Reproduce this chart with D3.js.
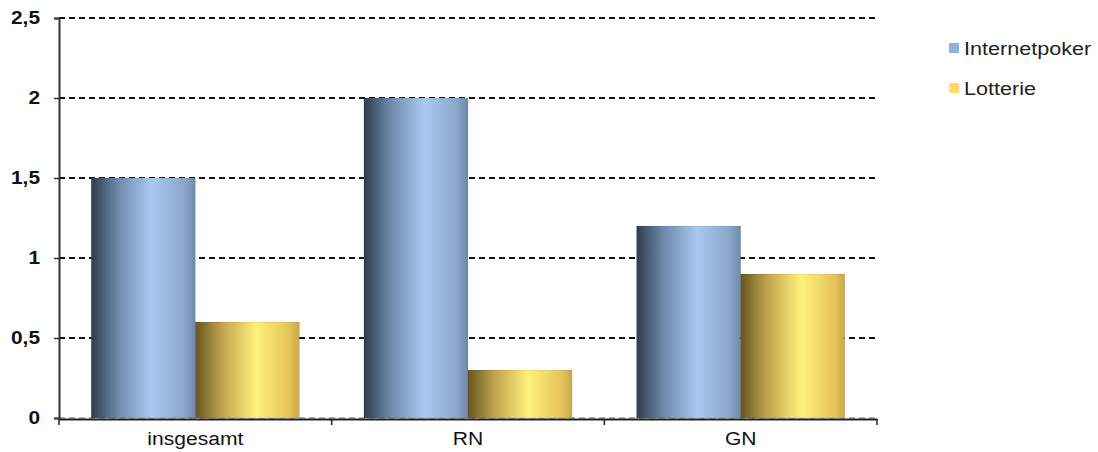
<!DOCTYPE html>
<html>
<head>
<meta charset="utf-8">
<script src="https://cdn.jsdelivr.net/npm/d3@7"></script>
<style>
  html, body { margin: 0; padding: 0; background: #fff; }
  svg { display: block; font-family: "Liberation Sans", Arial, sans-serif; }
</style>
</head>
<body>
<svg id="chart" width="1098" height="452"></svg>
<script>
// Data
const categories = ["insgesamt", "RN", "GN"];
const seriesNames = ["Internetpoker", "Lotterie"];
const internetpoker = [1.5, 2.0, 1.2];
const lotterie = [0.6, 0.3, 0.9];
const yTicks = [0, 0.5, 1, 1.5, 2, 2.5];
const yTickLabels = ["0", "0,5", "1", "1,5", "2", "2,5"];

const seriesValues = [internetpoker, lotterie];

const svg = d3.select("#chart");
const margin = { left: 59, right: 221, top: 18, bottom: 34 };
const W = 1098, H = 452;
const plotW = W - margin.left - margin.right;
const plotH = H - margin.top - margin.bottom;

const x0 = d3.scaleBand().domain(categories).range([margin.left, margin.left + plotW]).paddingInner(0).paddingOuter(0);
const x1 = d3.scaleBand().domain(seriesNames).range([0, x0.bandwidth()]).paddingOuter(0.31).paddingInner(0);
const y = d3.scaleLinear().domain([0, 2.5]).range([margin.top + plotH, margin.top]);

// Widen text glyphs horizontally (the chart uses a slightly stretched face)
function stretch(sel, k) {
  sel.each(function () {
    const w = this.getComputedTextLength();
    d3.select(this).attr("textLength", w * k).attr("lengthAdjust", "spacingAndGlyphs");
  });
}

// Gradients for cylinder-like shading
const defs = svg.append("defs");
const gradStops = {
  Internetpoker: [[0, "#2f3c4f"], [0.25, "#6d87a8"], [0.58, "#a9c9f1"], [0.9, "#8aa5c8"], [1, "#6f88aa"]],
  Lotterie: [[0, "#665526"], [0.25, "#c0a24a"], [0.58, "#fff07c"], [0.9, "#e5c55a"], [1, "#c9a84a"]]
};
seriesNames.forEach((s, i) => {
  const g = defs.append("linearGradient").attr("id", "grad" + i)
    .attr("x1", "0%").attr("x2", "100%").attr("y1", "0%").attr("y2", "0%");
  gradStops[s].forEach(([o, c]) => g.append("stop").attr("offset", o).attr("stop-color", c));
});
const legendColors = ["#94b2d8", "#fcdb6a"];

// Zero gridline (light) and other gridlines (dark dashed)
svg.append("g").selectAll("line").data(yTicks).join("line")
  .attr("x1", margin.left).attr("x2", margin.left + plotW)
  .attr("y1", d => y(d)).attr("y2", d => y(d))
  .attr("stroke", d => d === 0 ? "#b0b0b0" : "#111")
  .attr("stroke-width", 2)
  .attr("stroke-dasharray", "6,4");

// Bars
const groups = svg.append("g").selectAll("g").data(categories).join("g")
  .attr("transform", d => `translate(${x0(d)},0)`);
groups.selectAll("rect").data((c, ci) => seriesNames.map((s, si) => ({ s, si, v: seriesValues[si][ci] })))
  .join("rect")
  .attr("x", d => x1(d.s))
  .attr("width", x1.bandwidth())
  .attr("y", d => y(d.v))
  .attr("height", d => y(0) - y(d.v))
  .attr("fill", d => `url(#grad${d.si})`)
  .attr("stroke", "rgba(0,0,0,0.12)")
  .attr("stroke-width", 0.6);

// Y axis
const yAxis = d3.axisLeft(y).tickValues(yTicks).tickFormat((d, i) => yTickLabels[i]).tickSize(5).tickPadding(14);
const gy = svg.append("g").attr("transform", `translate(${margin.left},0)`).call(yAxis);
gy.select(".domain").attr("stroke", "#333").attr("stroke-width", 2);
gy.selectAll(".tick line").attr("stroke", "#333").attr("stroke-width", 1.5);
gy.selectAll(".tick text").attr("font-size", 18).attr("font-weight", "bold").attr("fill", "#111")
  .attr("font-family", "Liberation Sans, Arial, sans-serif").call(stretch, 1.16);

// X axis
const xAxis = d3.axisBottom(x0).tickSize(0).tickPadding(13);
const gx = svg.append("g").attr("transform", `translate(0,${y(0) + 1})`).call(xAxis);
gx.select(".domain").attr("stroke", "#222").attr("stroke-width", 2);
gx.selectAll(".tick text").attr("font-size", 18).attr("fill", "#111")
  .attr("font-family", "Liberation Sans, Arial, sans-serif").call(stretch, 1.17);
// Category boundary ticks
const bounds = categories.map(c => x0(c)).concat([x0(categories[categories.length - 1]) + x0.bandwidth()]);
gx.append("g").selectAll("line").data(bounds).join("line")
  .attr("x1", d => d).attr("x2", d => d).attr("y1", 0).attr("y2", 6)
  .attr("stroke", "#222").attr("stroke-width", 1.5);

// Legend
const legend = svg.append("g").attr("transform", "translate(949,42)");
seriesNames.forEach((s, i) => {
  const row = legend.append("g").attr("transform", `translate(0,${i * 40})`);
  row.append("rect").attr("x", 0).attr("y", 1).attr("width", 10).attr("height", 10).attr("fill", legendColors[i]);
  row.append("text").attr("x", 15).attr("y", 13).attr("font-size", 18).attr("fill", "#222").text(s)
    .call(stretch, 1.2);
});
</script>
</body>
</html>
